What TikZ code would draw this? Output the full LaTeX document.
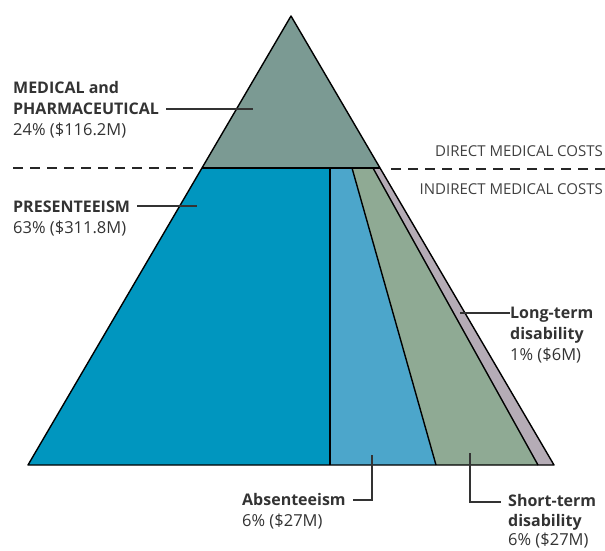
\documentclass[tikz,border=0pt]{standalone}
\usepackage{fontspec}
\setmainfont{Open Sans}
\begin{document}
\begin{tikzpicture}[x=1pt,y=-1pt,
  lbl/.style={anchor=base west,inner sep=0pt,font=\fontsize{16}{18}\selectfont\bfseries,text=black!80},
  sub/.style={anchor=base west,inner sep=0pt,font=\fontsize{16.5}{18}\selectfont,text=black!80},
  cat/.style={anchor=base east,inner sep=0pt,font=\fontsize{15}{16}\selectfont,text=black!75},
  leader/.style={draw=black!80,line width=1.2pt},
  edge/.style={draw=black,line width=1.4pt,line join=round}]
\definecolor{medc}{HTML}{7B9A93}
\definecolor{presc}{HTML}{0096BF}
\definecolor{absc}{HTML}{4CA6CB}
\definecolor{stc}{HTML}{8FAA94}
\definecolor{ltc}{HTML}{B5ACB6}
\useasboundingbox (0,0) rectangle (605,550);
% geometry
\coordinate (apex) at (291,16);
\coordinate (bl) at (28,465);
\coordinate (br) at (554,465);
\coordinate (ml) at (202,168);
\coordinate (mr) at (380,168);
\coordinate (v1t) at (330,168);
\coordinate (v1b) at (330,465);
\coordinate (v2t) at (352,168);
\coordinate (v2b) at (436,465);
\coordinate (v3t) at (373,168);
\coordinate (v3b) at (538,465);
% fills
\fill[medc] (apex) -- (ml) -- (mr) -- cycle;
\fill[presc] (ml) -- (v1t) -- (v1b) -- (bl) -- cycle;
\fill[absc] (v1t) -- (v2t) -- (v2b) -- (v1b) -- cycle;
\fill[stc] (v2t) -- (v3t) -- (v3b) -- (v2b) -- cycle;
\fill[ltc] (v3t) -- (mr) -- (br) -- (v3b) -- cycle;
% edges
\draw[edge] (apex) -- (bl) -- (br) -- cycle;
\draw[edge] (ml) -- (mr);
\draw[edge] (v1t) -- (v1b);
\draw[edge] (v2t) -- (v2b);
\draw[edge] (v3t) -- (v3b);
% dashed divider
\coordinate (dl1) at (13,168);
\coordinate (dl2) at (196,168);
\coordinate (dr1) at (389,169);
\coordinate (dr2) at (605,169);
\draw[black!85,line width=2pt,dash pattern=on 10pt off 7pt] (dl1) -- (dl2);
\draw[black!85,line width=2pt,dash pattern=on 10pt off 7pt] (dr2) -- (dr1);
\node[cat] (direct) at (603,156) {DIRECT MEDICAL COSTS};
\node[cat] (indirect) at (603,194) {INDIRECT MEDICAL COSTS};
% medical
\node[lbl] (med1) at (13,93) {MEDICAL and};
\node[lbl] (med2) at (13,114) {PHARMACEUTICAL};
\node[sub] (med3) at (13,135) {24\% (\$116.2M)};
\coordinate (medp) at (253,109);
\draw[leader] (med2.east |- medp) ++(7,0) coordinate (meds) -- (medp);
% presenteeism
\node[lbl] (pre1) at (13,212) {PRESENTEEISM};
\node[sub] (pre2) at (13,233) {63\% (\$311.8M)};
\coordinate (prep) at (197,206);
\draw[leader] (pre1.east |- prep) ++(7,0) -- (prep);
% long-term
\node[lbl] (lt1) at (510,318) {Long-term};
\node[lbl] (lt2) at (510,339) {disability};
\node[sub] (lt3) at (510,360) {1\% (\$6M)};
\coordinate (ltp) at (460,313);
\draw[leader] (ltp) -- (ltp -| lt1.west) ++(-7,0);
% absenteeism
\node[lbl] (ab1) at (242,505) {Absenteeism};
\node[sub] (ab2) at (242,526) {6\% (\$27M)};
\coordinate (abp) at (372,455);
\coordinate (abc) at (372,500);
\draw[leader] (abp) -- (abc) -- ([xshift=7pt]ab1.east |- abc);
% short-term
\node[lbl] (st1) at (508,506) {Short-term};
\node[lbl] (st2) at (508,526) {disability};
\node[sub] (st3) at (508,545) {6\% (\$27M)};
\coordinate (stp) at (470,453);
\coordinate (stc2) at (470,502);
\draw[leader] (stp) -- (stc2) -- ([xshift=-7pt]st1.west |- stc2);
\end{tikzpicture}
\end{document}
